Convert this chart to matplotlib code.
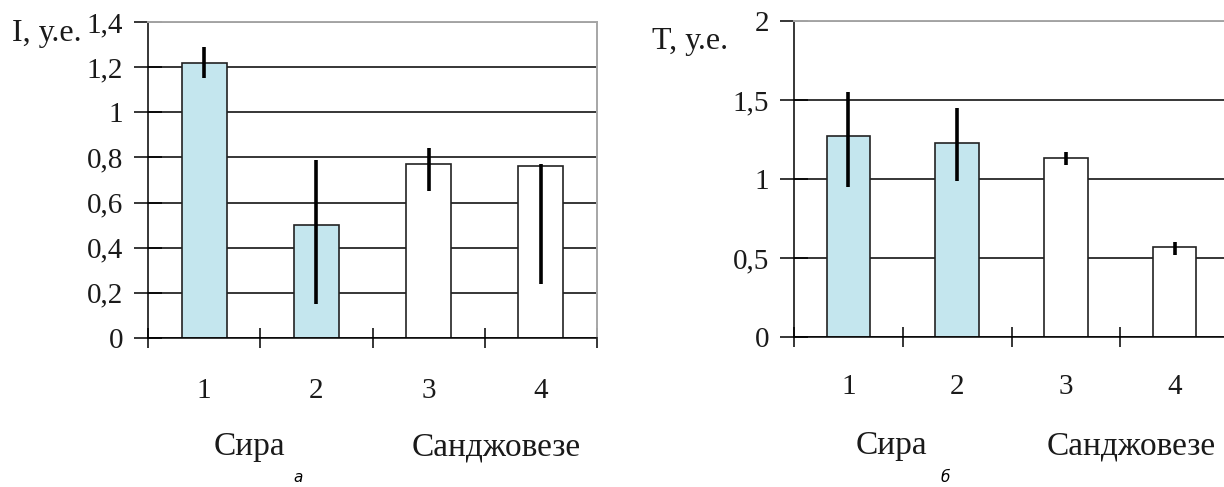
import matplotlib

matplotlib.use("Agg")
import matplotlib.pyplot as plt  # noqa: E402
from matplotlib.ticker import FuncFormatter, FixedLocator  # noqa: E402
from matplotlib.transforms import blended_transform_factory  # noqa: E402

plt.rcParams["font.family"] = ["Liberation Serif", "DejaVu Serif"]

# data
samples = [1, 2, 3, 4]
groups = ["Сира", "Санджовезе"]
group_pos = [1.4, 3.6]
bar_colors = ["#c4e6ee", "#c4e6ee", "white", "white"]

i_vals = [1.22, 0.50, 0.77, 0.76]
i_err_low = [0.07, 0.35, 0.12, 0.52]
i_err_high = [0.07, 0.29, 0.07, 0.01]

t_vals = [1.27, 1.23, 1.13, 0.57]
t_err_low = [0.32, 0.24, 0.04, 0.05]
t_err_high = [0.28, 0.22, 0.04, 0.03]

W, H = 1224, 487
fig = plt.figure(figsize=(W / 100, H / 100), dpi=100)


def comma(v, pos):
    return f"{v:g}".replace(".", ",")


def panel(rect, vals, lo, hi, ymax, ystep, ylabel, label_xy, caption, cap_x, xpad):
    ax = fig.add_axes(rect)
    ax.set_axisbelow(True)
    ax.bar(samples, vals, width=0.4, color=bar_colors, edgecolor="#222222",
           linewidth=1.2, zorder=2)
    ax.errorbar(samples, vals, yerr=[lo, hi], fmt="none", ecolor="black",
                elinewidth=2.6, capsize=0, zorder=3)
    ax.set_xlim(0.5, 4.5)
    ax.set_ylim(0, ymax)

    yt = [k * ystep for k in range(int(round(ymax / ystep)) + 1)]
    ax.yaxis.set_major_locator(FixedLocator(yt))
    ax.yaxis.set_major_formatter(FuncFormatter(comma))
    ax.grid(axis="y", color="black", linewidth=1.1)
    ax.tick_params(axis="y", direction="inout", length=20, width=1.1,
                   pad=8, labelsize=21, labelcolor="#1a1a1a")

    ax.xaxis.set_major_locator(FixedLocator([0.5, 1.5, 2.5, 3.5, 4.5]))
    ax.xaxis.set_major_formatter(FuncFormatter(lambda v, p: ""))
    ax.xaxis.set_minor_locator(FixedLocator(samples))
    ax.xaxis.set_minor_formatter(FuncFormatter(lambda v, p: f"{v:g}"))
    ax.tick_params(axis="x", which="major", direction="inout", length=14,
                   width=1.1)
    ax.tick_params(axis="x", which="minor", length=0, pad=xpad,
                   labelsize=21, labelcolor="#1a1a1a")

    for side in ("left", "bottom"):
        ax.spines[side].set_linewidth(1.1)
    for side in ("top", "right"):
        ax.spines[side].set_color("#a6a6a6")
        ax.spines[side].set_linewidth(1.4)

    tr = blended_transform_factory(ax.transData, ax.transAxes)
    for g, gx in zip(groups, group_pos):
        ax.text(gx, -0.345, g, transform=tr, ha="center", va="center",
                fontsize=24, color="#1a1a1a")

    fig.text(label_xy[0] / W, 1 - label_xy[1] / H, ylabel, ha="left",
             va="center", fontsize=23, color="#1a1a1a")
    fig.text(cap_x / W, 1 - 478 / H, caption, ha="center", va="center",
             fontsize=11, style="italic", family="DejaVu Sans")
    return ax


panel([148 / W, 1 - 338 / H, 449 / W, 316 / H], i_vals, i_err_low, i_err_high,
      1.4, 0.2, "I, у.е.", (12, 33), "а", 298, 29)
panel([794 / W, 1 - 337 / H, 435 / W, 316 / H], t_vals, t_err_low, t_err_high,
      2.0, 0.5, "T, у.е.", (652, 41), "б", 945, 27)

fig.savefig("out.png", dpi=100)
plt.close(fig)
